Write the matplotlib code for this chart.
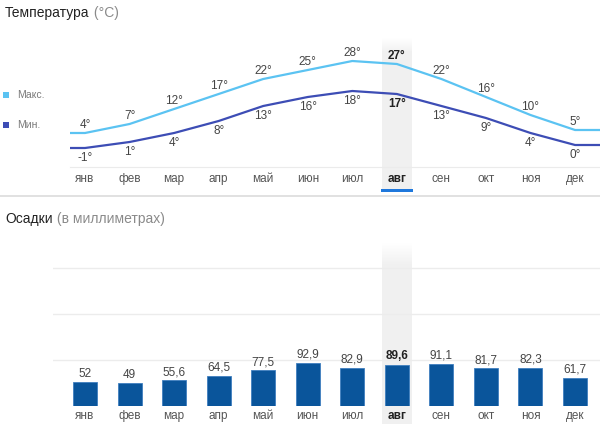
import matplotlib.pyplot as plt
from matplotlib.patches import Rectangle
import numpy as np

months = ['янв', 'фев', 'мар', 'апр', 'май', 'июн', 'июл', 'авг', 'сен', 'окт', 'ноя', 'дек']
t_max = [4, 7, 12, 17, 22, 25, 28, 27, 22, 16, 10, 5]
t_min = [-1, 1, 4, 8, 13, 16, 18, 17, 13, 9, 4, 0]
precip = [52, 49, 55.6, 64.5, 77.5, 92.9, 82.9, 89.6, 91.1, 81.7, 82.3, 61.7]
current = 7  # авг

C_MAX = '#5bc3f2'
C_MIN = '#3d4db5'
C_BAR = '#0a559b'
C_TXT = '#444444'

W, H = 600, 424
X0, STEP = 85, 44.55   # pixel of first month, pixels per month

plt.rcParams['font.family'] = ['Liberation Sans', 'DejaVu Sans']

fig = plt.figure(figsize=(6, 4.24), dpi=100)

def box(x0, y0, x1, y1):
    return [x0 / W, 1 - y1 / H, (x1 - x0) / W, (y1 - y0) / H]

def px(i):
    return X0 + STEP * i

# background layer in pixel coordinates
bg = fig.add_axes([0, 0, 1, 1], zorder=0)
bg.axis('off')

def column(y_top, y_bot, fade):
    hx = px(current)
    n = 200
    grad = np.ones((n, 1, 4))
    grad[..., :3] = 0.945
    grad[:, 0, 3] = np.clip(np.linspace(0, (y_bot - y_top) / fade, n), 0, 1)
    bg.imshow(grad, extent=(hx - 15, hx + 15, y_bot, y_top), aspect='auto',
              interpolation='bilinear')

column(38, 192, 14)
column(243, 424, 22)
bg.add_patch(Rectangle((px(current) - 16, 189), 32, 3, color='#1f78dc', lw=0))
bg.plot([0, W], [195.5, 195.5], color='#dcdcdc', lw=1.2)
bg.set_xlim(0, W)
bg.set_ylim(H, 0)

# titles
t = bg.text(5, 13.5, 'Температура', fontsize=10, va='center', color='#222222')
bg.annotate(' (°C)', xy=(1, 0), xycoords=t, va='bottom', fontsize=10, color='#8a8a8a')
t = bg.text(5, 218.5, 'Осадки', fontsize=10, va='center', color='#222222')
bg.annotate(' (в миллиметрах)', xy=(1, 0), xycoords=t, va='bottom', fontsize=10, color='#8a8a8a')

# legend
for y, c, lab in [(94.5, C_MAX, 'Макс.'), (124.5, C_MIN, 'Мин.')]:
    bg.add_patch(Rectangle((3, y - 3), 6, 6, color=c, lw=0))
    bg.text(17, y, lab, fontsize=7.5, va='center', color='#7a7a7a')

# temperature chart
ax1 = fig.add_axes(box(70, 40, 600, 167), zorder=1)
ax1.patch.set_visible(False)
ax1.set_xlim((70 - X0) / STEP, (W - X0) / STEP)
ax1.set_ylim(4 - 34 / 3, 35)
x = np.arange(12)
xe = np.r_[(70 - X0) / STEP, x, (W - X0) / STEP]
for vals, c, off in [(t_max, C_MAX, 5.8), (t_min, C_MIN, -7.5)]:
    ye = np.r_[vals[0], vals, vals[-1]]
    ax1.plot(xe, ye, color=c, lw=1.6, solid_joinstyle='round')
    for i, v in enumerate(vals):
        ax1.annotate(f'{v}°', (i, v), xytext=(0, off), textcoords='offset points',
                     ha='center', va='center', fontsize=8.5, color=C_TXT if i != current else '#222222',
                     fontweight='bold' if i == current else 'normal')
for s in ['top', 'left', 'right']:
    ax1.spines[s].set_visible(False)
ax1.spines['bottom'].set_color('#ebebeb')
ax1.set_yticks([])
ax1.set_xticks(x, months)
ax1.tick_params(axis='x', length=0, pad=4.5, labelsize=8.5, labelcolor='#555555')
lbl = ax1.get_xticklabels()[current]
lbl.set_fontweight('bold')
lbl.set_color('#222222')

# precipitation chart
ax2 = fig.add_axes(box(53, 245, 600, 406), zorder=1)
ax2.patch.set_visible(False)
ax2.set_xlim((53 - X0) / STEP, (W - X0) / STEP)
ax2.set_ylim(0, 350)
ax2.set_yticks([100, 200, 300])
ax2.yaxis.grid(True, color='#ececec', lw=1)
ax2.set_axisbelow(True)
ax2.tick_params(axis='y', length=0, labelleft=False)
for s in ax2.spines.values():
    s.set_visible(False)
ax2.bar(x, precip, width=24 / STEP, color=C_BAR, edgecolor='#3f7fbf', lw=0.6)
for i, v in enumerate(precip):
    ax2.annotate(f'{v:g}'.replace('.', ','), (i, v), xytext=(0, 6), textcoords='offset points',
                 ha='center', va='center', fontsize=8.5, color=C_TXT if i != current else '#222222',
                 fontweight='bold' if i == current else 'normal')
ax2.set_xticks(x, months)
ax2.tick_params(axis='x', length=0, pad=3, labelsize=8.5, labelcolor='#555555')
lbl = ax2.get_xticklabels()[current]
lbl.set_fontweight('bold')
lbl.set_color('#222222')

fig.savefig('out.png', dpi=100)
